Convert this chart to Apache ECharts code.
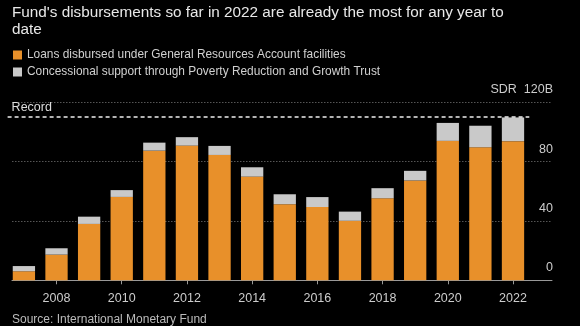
<!DOCTYPE html>
<html><head><meta charset="utf-8">
<script src="https://cdn.jsdelivr.net/npm/echarts@6/dist/echarts.min.js"></script>
<style>html,body{margin:0;padding:0;background:#000}#c{width:580px;height:326px}</style>
</head><body><div id="c"></div>
<script>
const years = ['2007','2008','2009','2010','2011','2012','2013','2014','2015','2016','2017','2018','2019','2020','2021','2022'];
const gra = [6.1,17.3,38.0,56.2,87.4,90.8,84.5,69.9,51.3,49.4,40.1,55.3,67.3,94.0,89.7,93.8];
const prgt = [3.5,4.3,4.9,4.6,5.4,5.7,6.1,6.3,6.7,6.7,6.2,6.8,6.5,12.1,14.5,16.0];
const yTicks = [0,40,80,120];
const recordValue = 110;
const titleText = "Fund's disbursements so far in 2022 are already the most for any year to\ndate";
const legendNames = ['Loans disbursed under General Resources Account facilities','Concessional support through Poverty Reduction and Growth Trust'];
const sourceText = 'Source: International Monetary Fund';

const chart = echarts.init(document.getElementById('c'));
const FONT = 'Liberation Sans';
const TOP = 102.3, BOTTOM = 326 - 280.3;
chart.setOption({
  backgroundColor: '#000',
  animation: false,
  textStyle: {fontFamily: FONT},
  title: {text: titleText, left: 7, top: 0, textStyle: {color: '#e8e8e8', fontSize: 15.3, fontWeight: 'normal', lineHeight: 16.5, fontFamily: FONT}},
  legend: {orient: 'vertical', left: 8, top: 44, itemWidth: 9, itemHeight: 9, itemGap: 5,
    icon: 'rect', textStyle: {color: '#d0d0d0', fontSize: 11.9, fontFamily: FONT}, data: legendNames},
  graphic: [{type: 'text', left: 12, top: 314, style: {text: sourceText, fill: '#bbb', fontSize: 12, fontFamily: FONT}}],
  grid: [
    {left: 12, right: 28, top: TOP, bottom: BOTTOM},
    {left: 7.6, right: 50.7, top: TOP, bottom: BOTTOM}
  ],
  xAxis: [
    {gridIndex: 0, type: 'value', min: 0, max: 1, axisLine: {show: true, onZero: false, lineStyle: {color: '#999', width: 1}},
      axisTick: {show: false}, axisLabel: {show: false}, splitLine: {show: false}},
    {gridIndex: 1, type: 'category', data: years, axisLine: {show: false},
      axisTick: {show: true, alignWithLabel: true, length: 4, interval: (i) => i % 2 === 1, lineStyle: {color: '#999'}},
      axisLabel: {interval: (i) => i % 2 === 1, color: '#ccc', fontSize: 12.5, margin: 12, fontFamily: FONT}}
  ],
  yAxis: [
    {gridIndex: 0, type: 'value', position: 'right', min: 0, max: 120, interval: 40,
      axisLine: {show: false}, axisTick: {show: false},
      splitLine: {show: true, lineStyle: {color: '#555', type: [1.5, 1.5], width: 1}},
      axisLabel: {inside: true, margin: -1, color: '#ccc', fontSize: 12.5, fontFamily: FONT, verticalAlign: 'bottom', padding: [0,0,6,0],
        formatter: (v) => v === 120 ? 'SDR  120B' : String(v)}},
    {gridIndex: 1, type: 'value', min: 0, max: 120, show: false}
  ],
  series: [
    {name: legendNames[0], type: 'bar', stack: 'a', xAxisIndex: 1, yAxisIndex: 1, data: gra,
      barCategoryGap: '31.6%', itemStyle: {color: '#e8902a'},
      markLine: {symbol: 'none', silent: true, lineStyle: {color: '#eee', type: [4, 3], width: 1.5},
        label: {show: true, position: 'insideStartTop', formatter: 'Record', color: '#ddd', fontSize: 12.5, fontFamily: FONT, distance: [4, 3]},
        data: [{yAxis: recordValue}]}},
    {name: legendNames[1], type: 'bar', stack: 'a', xAxisIndex: 1, yAxisIndex: 1, data: prgt,
      itemStyle: {color: '#c9c9c9'}}
  ]
});
</script></body></html>
